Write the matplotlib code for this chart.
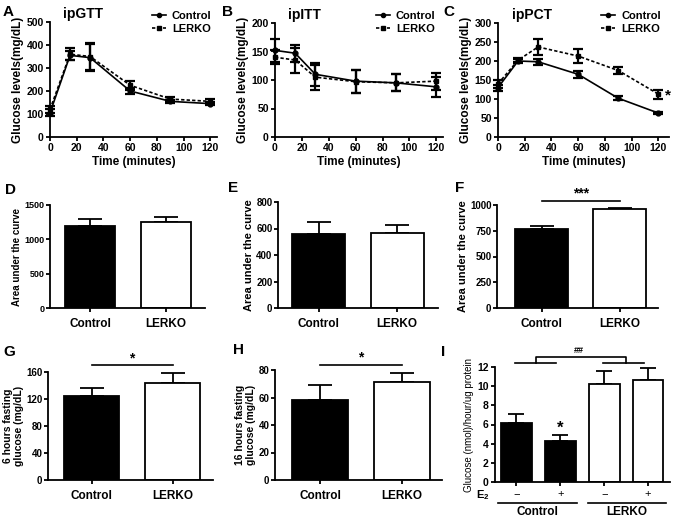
import numpy as np
import matplotlib
matplotlib.use("Agg")
import matplotlib.pyplot as plt
from matplotlib.lines import Line2D
from matplotlib.transforms import blended_transform_factory

# ---- data ----
times = [0, 15, 30, 60, 90, 120]

gtt_ctrl = [105, 355, 345, 200, 155, 145]
gtt_ctrl_err = [15, 20, 60, 12, 8, 8]
gtt_lerko = [120, 360, 350, 225, 165, 155]
gtt_lerko_err = [15, 25, 60, 20, 8, 10]

itt_ctrl = [152, 147, 110, 98, 95, 88]
itt_ctrl_err = [20, 15, 20, 20, 15, 18]
itt_lerko = [140, 135, 105, 97, 95, 98]
itt_lerko_err = [12, 22, 22, 20, 15, 15]

pct_ctrl = [130, 200, 198, 165, 102, 63]
pct_ctrl_err = [8, 5, 8, 10, 5, 3]
pct_lerko = [140, 202, 237, 213, 175, 113]
pct_lerko_err = [10, 5, 22, 18, 8, 12]

groups = ["Control", "LERKO"]
auc_gtt = [1190, 1255]
auc_gtt_err = [110, 75]
auc_itt = [560, 567]
auc_itt_err = [90, 60]
auc_pct = [765, 965]
auc_pct_err = [35, 8]
fast6 = [125, 144]
fast6_err = [12, 15]
fast16 = [58, 71]
fast16_err = [11, 7]

e2_labels = ["\u2212", "+", "\u2212", "+"]
uptake = [6.2, 4.3, 10.2, 10.6]
uptake_err = [0.9, 0.6, 1.4, 1.3]

W, H = 675, 517

plt.rcParams["font.family"] = ["Liberation Sans", "DejaVu Sans"]
plt.rcParams["font.weight"] = "bold"
plt.rcParams["axes.labelweight"] = "bold"
plt.rcParams["mathtext.fontset"] = "custom"
plt.rcParams["mathtext.rm"] = "Liberation Sans"
plt.rcParams["mathtext.bf"] = "Liberation Sans:bold"

fig = plt.figure(figsize=(W / 100, H / 100), dpi=100)


def axes_px(left, top, right, bottom):
    """ Add axes given pixel edges (top-left origin) """
    return fig.add_axes([left / W, 1 - bottom / H, (right - left) / W, (bottom - top) / H])


def fig_y(y):
    return 1 - y / H


def style(ax, size):
    for s in ["top", "right"]:
        ax.spines[s].set_visible(False)
    for s in ["left", "bottom"]:
        ax.spines[s].set_linewidth(1.3)
    ax.tick_params(direction="out", length=3, width=1.3, labelsize=size, pad=1.5)


def curve_panel(ax, ctrl, ctrl_err, lerko, lerko_err, ymax, ystep, xmax, title, legend_xy):
    style(ax, 7.5)
    for vals, errs, mk, ls in [(ctrl, ctrl_err, "o", "-"), (lerko, lerko_err, "s", (0, (2, 1.3)))]:
        eb = ax.errorbar(times, vals, yerr=errs, color="black", marker=mk, ms=3.5,
                         linestyle=ls, lw=1.2, elinewidth=1.6, capsize=3.5, capthick=1.6, zorder=3)
        for art in eb.get_children():
            art.set_clip_on(False)
    ax.set_xlim(0, xmax)
    ax.set_ylim(0, ymax)
    ax.set_xticks(range(0, 121, 20))
    ax.set_yticks(np.arange(0, ymax + 1, ystep))
    ax.set_xlabel("Time (minutes)", fontsize=8.5, labelpad=2)
    ax.set_ylabel("Glucose levels(mg/dL)", fontsize=8.5, labelpad=2)
    ax.text(0.08, 1.07, title, transform=ax.transAxes, fontsize=10, fontweight="bold",
            ha="left", va="center")
    handles = [Line2D([], [], color="black", marker="o", ms=3, lw=1.2),
               Line2D([], [], color="black", marker="s", ms=3, lw=1.2, linestyle=(0, (2, 1.3)))]
    fig.legend(handles, groups, loc="upper left",
               bbox_to_anchor=(legend_xy[0] / W, fig_y(legend_xy[1])),
               frameon=False, fontsize=8, handlelength=1.3, handletextpad=0.5,
               labelspacing=0.25, borderpad=0, borderaxespad=0)


def bar_panel(ax, vals, errs, xlim, width, ymax, ystep, ylabel, tick_size, label_size, spacing=1.0):
    style(ax, tick_size)
    x = np.arange(len(vals))
    colors = ["black" if "Control" in g else "white" for g in groups]
    ax.bar(x, vals, width=width, color=colors, edgecolor="black", linewidth=1.3, zorder=2)
    ax.errorbar(x, vals, yerr=[np.zeros(len(vals)), errs], fmt="none", ecolor="black",
                elinewidth=1.3, capsize=8.5, capthick=1.3, zorder=1)
    ax.set_xlim(*xlim)
    ax.set_ylim(0, ymax)
    ax.set_yticks(np.arange(0, ymax + 1, ystep))
    ax.set_xticks(x)
    ax.set_xticklabels(groups, fontsize=8.5)
    ax.tick_params(axis="x", pad=4)
    ax.tick_params(axis="y", pad=1)
    ax.set_ylabel(ylabel, fontsize=label_size, labelpad=1.5, linespacing=spacing)


def sig_line(ax, x0, x1, y, ytext, mark):
    ax.plot([x0, x1], [y, y], color="black", lw=1.2, clip_on=False)
    ax.text((x0 + x1) / 2, ytext, mark, ha="center", va="center", fontsize=10, fontweight="bold")


# ---- A-C: tolerance tests ----
axA = axes_px(50, 22, 217, 137)
curve_panel(axA, gtt_ctrl, gtt_ctrl_err, gtt_lerko, gtt_lerko_err, 500, 100, 125, "ipGTT", (152, 11))
axB = axes_px(275, 23, 443, 137)
curve_panel(axB, itt_ctrl, itt_ctrl_err, itt_lerko, itt_lerko_err, 200, 50, 125, "ipITT", (376, 11))
axC = axes_px(498, 23, 669, 137)
curve_panel(axC, pct_ctrl, pct_ctrl_err, pct_lerko, pct_lerko_err, 300, 50, 128, "ipPCT", (601, 11))
axC.text(127, 108, "*", fontsize=11, fontweight="bold", ha="center", va="center", clip_on=False)

# ---- D-F: area under the curve ----
axD = axes_px(50, 205, 205, 308)
bar_panel(axD, auc_gtt, auc_gtt_err, (-0.53, 1.51), 0.66, 1500, 500, "Area under the curve", 6.5, 7)
axE = axes_px(278, 202, 438, 308)
bar_panel(axE, auc_itt, auc_itt_err, (-0.52, 1.52), 0.68, 800, 200, "Area under the curve", 7, 8)
axF = axes_px(497, 205, 658, 308)
bar_panel(axF, auc_pct, auc_pct_err, (-0.57, 1.49), 0.68, 1000, 250, "Area under the curve", 7, 8)
sig_line(axF, 0, 1, 1040, 1110, "***")

# ---- G-H: fasting glucose ----
axG = axes_px(48, 372, 213, 480)
bar_panel(axG, fast6, fast6_err, (-0.54, 1.5), 0.68, 160, 40,
          "6 hours fasting\nglucose (mg/dL)", 7, 7.5, spacing=1.15)
sig_line(axG, 0, 1, 170, 180, "*")
axH = axes_px(275, 370, 442, 480)
bar_panel(axH, fast16, fast16_err, (-0.55, 1.49), 0.68, 80, 20,
          "16 hours fasting\nglucose (mg/dL)", 7, 7.5, spacing=1.15)
sig_line(axH, 0, 1, 84, 89, "*")

# ---- I: glucose production ----
axI = axes_px(495, 367, 670, 482)
style(axI, 7.5)
xi = np.arange(len(uptake))
axI.bar(xi, uptake, width=0.7, color=["black", "black", "white", "white"],
        edgecolor="black", linewidth=1.3, zorder=2)
axI.errorbar(xi, uptake, yerr=[np.zeros(len(uptake)), uptake_err], fmt="none", ecolor="black",
             elinewidth=1.3, capsize=5.5, capthick=1.3, zorder=1)
axI.set_xlim(-0.49, 3.5)
axI.set_ylim(0, 12)
axI.set_yticks(range(0, 13, 2))
axI.set_xticks(xi)
axI.set_xticklabels(e2_labels, fontsize=8, fontweight="normal")
axI.tick_params(axis="x", pad=2)
axI.set_ylabel("Glucose (nmol)/hour/ug protein", fontsize=7, fontweight="normal", labelpad=2)
axI.text(1, 5.6, "*", ha="center", va="center", fontsize=12, fontweight="bold")

# bracket over groups
for x0, x1 in [(-0.03, 0.9), (1.98, 2.9)]:
    axI.plot([x0, x1], [12.4, 12.4], color="black", lw=1.2, clip_on=False)
axI.plot([0.44, 0.44, 2.5, 2.5], [12.4, 13.0, 13.0, 12.4], color="black", lw=1.2, clip_on=False)
axI.text(1.42, 13.75, "##", ha="center", va="center", fontsize=6.5, fontweight="bold")

# group labels under the E2 row
trI = blended_transform_factory(axI.transData, fig.transFigure)
axI.text(-0.62, fig_y(495), r"$\mathbf{E_2}$", transform=trI, ha="right", va="center", fontsize=8)
for x0, x1, name in [(-0.42, 1.38, "Control"), (1.63, 3.42, "LERKO")]:
    axI.plot([x0, x1], [fig_y(503), fig_y(503)], transform=trI, color="black", lw=1.2, clip_on=False)
    axI.text((x0 + x1) / 2, fig_y(512), name, transform=trI, ha="center", va="center", fontsize=8.5)

# ---- panel letters ----
for letter, (px, py) in {"A": (3, 12), "B": (222, 12), "C": (443, 12),
                         "D": (5, 190), "E": (228, 188), "F": (455, 188),
                         "G": (3, 352), "H": (233, 350), "I": (441, 352)}.items():
    fig.text(px / W, fig_y(py), letter, fontsize=11, fontweight="bold", ha="left", va="center")

fig.savefig("out.png", dpi=100)
